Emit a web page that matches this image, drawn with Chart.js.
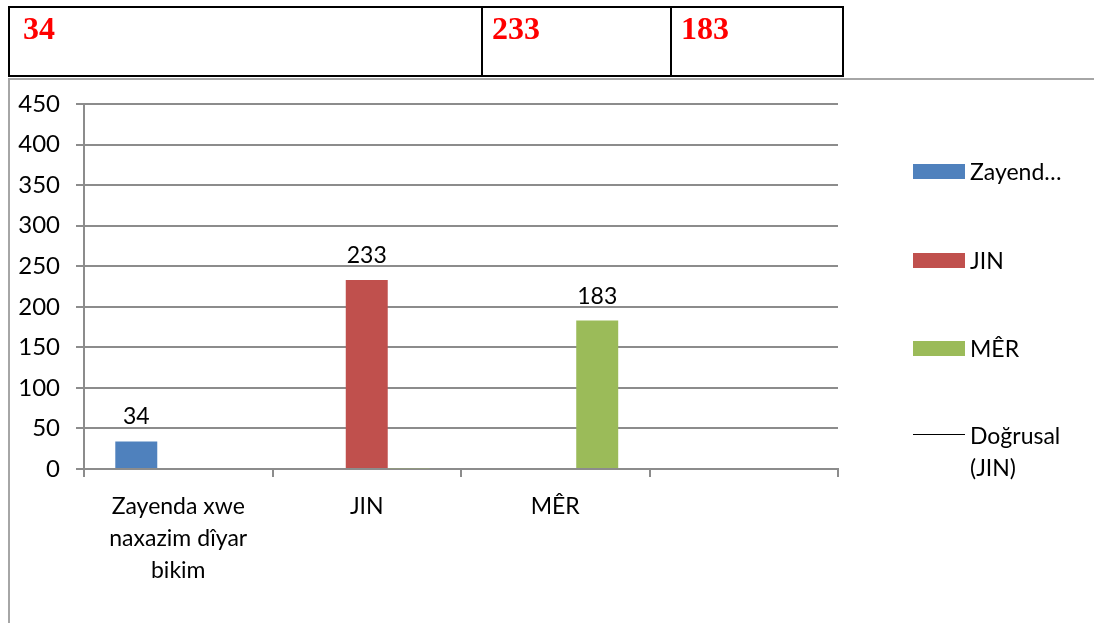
<!DOCTYPE html>
<html>
<head>
<meta charset="utf-8">
<script src="https://cdn.jsdelivr.net/npm/chart.js@4"></script>
<style>
  body { margin: 0; background: #fff; width: 1094px; height: 625px; overflow: hidden; position: relative; font-family: Lato, sans-serif; }
  #frameTop { position: absolute; left: 8px; top: 78px; width: 1086px; height: 0; border-top: 2px solid #a6a6a6; }
  #frameLeft { position: absolute; left: 8px; top: 78px; width: 0; height: 545px; border-left: 2px solid #a6a6a6; }
  .cell { position: absolute; top: 6px; height: 71px; box-sizing: border-box; border: 2px solid #000;
          color: #f00; font: bold 32px "Liberation Serif", serif; padding: 2px 0 0 13px; }
  #wrap { position: absolute; left: 0; top: 0; width: 1094px; height: 625px; }
  #legend { position: absolute; left: 913px; top: 155px; font: 23px Lato, sans-serif; color: #000; }
  .item { position: absolute; left: 0; display: flex; align-items: flex-start; }
  .swatch { width: 52px; height: 15px; margin-right: 5px; margin-top: 9px; }
  .txt { width: 120px; line-height: 32px; }
</style>
</head>
<body>
<div id="wrap"><canvas id="myChart" width="1094" height="625"></canvas></div>
<div id="frameTop"></div>
<div id="frameLeft"></div>
<div id="table"></div>
<div id="legend"></div>
<script>
// categories, wrapped the way the original shows them
const CATEGORIES = [["Zayenda xwe", "naxazim dîyar", "bikim"], "JIN", "MÊR", ""];
const SERIES_NAMES = ["Zayenda xwe naxazim dîyar bikim", "JIN", "MÊR"];
const LEGEND_TEXT = ["Zayend…", "JIN", "MÊR", "Doğrusal (JIN)"];
const ZAYENDA = [34, null, null, null];
const JIN = [null, 233, null, null];
const MER = [null, 1, 183, null];
const Y_TICKS = [0, 50, 100, 150, 200, 250, 300, 350, 400, 450];
const TABLE_VALUES = [34, 233, 183];

const COLORS = ["#4f81bd", "#c0504d", "#9bbb59"];
const GRID = "#8c8c8c";

// table above the chart
const cells = [[8, 475], [479, 193], [668, 176]];
const $table = document.getElementById("table");
cells.forEach((c, i) => {
  const d = document.createElement("div");
  d.className = "cell";
  d.style.left = c[0] + "px";
  d.style.width = c[1] + "px";
  if (i > 0) d.style.borderLeftWidth = "0";
  d.textContent = TABLE_VALUES[i];
  $table.appendChild(d);
});

// value labels above the bars
const valueLabels = {
  id: "valueLabels",
  afterDatasetsDraw(chart) {
    const ctx = chart.ctx;
    ctx.save();
    ctx.font = "23px Lato";
    ctx.fillStyle = "#000";
    ctx.textAlign = "center";
    ctx.textBaseline = "alphabetic";
    chart.data.datasets.forEach((ds, i) => {
      if (ds.type === "line") return;
      chart.getDatasetMeta(i).data.forEach((bar, j) => {
        const v = ds.data[j];
        if (v == null || v < 5) return; // the sliver at JIN has no label in the original
        ctx.fillText(v, bar.x, bar.y - 17);
      });
    });
    ctx.restore();
  },
};

var ctx = document.getElementById("myChart").getContext("2d");
var myChart = new Chart(ctx, {
  type: "bar",
  data: {
    labels: CATEGORIES,
    datasets: [
      { label: SERIES_NAMES[0], data: ZAYENDA, backgroundColor: COLORS[0] },
      { label: SERIES_NAMES[1], data: JIN, backgroundColor: COLORS[1] },
      { label: SERIES_NAMES[2], data: MER, backgroundColor: COLORS[2] },
      { type: "line", label: "Doğrusal (JIN)", data: [], borderColor: "#000", borderWidth: 1.5, pointRadius: 0 },
    ],
  },
  options: {
    responsive: false,
    animation: false,
    events: [],
    layout: { padding: { top: 104, right: 256, left: 0, bottom: 0 } },
    datasets: { bar: { barPercentage: 1, categoryPercentage: 0.668 } },
    plugins: { legend: { display: false }, tooltip: { enabled: false } },
    scales: {
      x: {
        grid: { drawOnChartArea: false, color: GRID, lineWidth: 2, tickLength: 8 },
        border: { color: GRID, width: 2 },
        ticks: { color: "#000", font: { family: "Lato", size: 23, lineHeight: 1.39 }, padding: 14, maxRotation: 0, autoSkip: false },
        afterFit: (s) => { s.height = 625 - 469; s.paddingLeft = 0; s.paddingRight = 0; },
      },
      y: {
        min: 0,
        max: 450,
        afterBuildTicks: (s) => { s.ticks = Y_TICKS.map((v) => ({ value: v })); },
        grid: { color: GRID, lineWidth: 2, tickLength: 8 },
        border: { color: GRID, width: 2 },
        ticks: { color: "#000", font: { family: "Lato", size: 24 }, padding: 16 },
        afterFit: (s) => { s.width = 84; s.paddingTop = 0; s.paddingBottom = 0; },
      },
    },
  },
  plugins: [valueLabels],
});

// legend on the right, built from the datasets
const $legend = document.getElementById("legend");
const legendTops = [0, 89, 177, 264];
myChart.data.datasets.forEach((ds, i) => {
  const item = document.createElement("div");
  item.className = "item";
  item.style.top = legendTops[i] + "px";
  const sw = document.createElement("div");
  sw.className = "swatch";
  if (ds.type === "line") {
    sw.style.height = "0";
    sw.style.marginTop = "15px";
    sw.style.borderTop = "1.5px solid #000";
  } else {
    sw.style.background = ds.backgroundColor;
  }
  const t = document.createElement("div");
  t.className = "txt";
  t.textContent = LEGEND_TEXT[i];
  item.appendChild(sw);
  item.appendChild(t);
  $legend.appendChild(item);
});
</script>
</body>
</html>
